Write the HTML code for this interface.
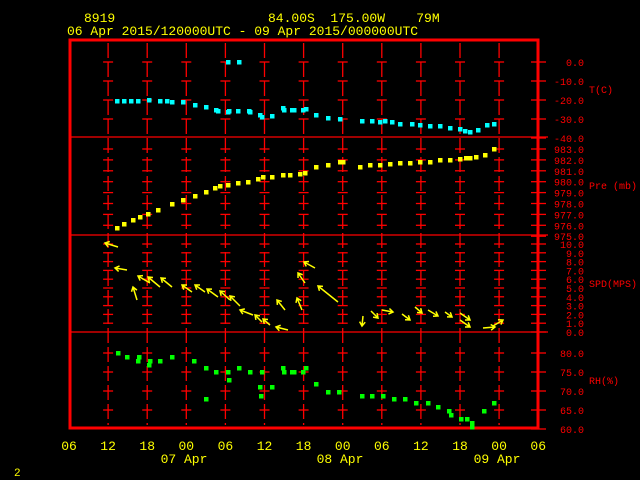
<!DOCTYPE html>
<html><head><meta charset="utf-8"><style>
html,body{margin:0;padding:0;background:#000;width:640px;height:480px;overflow:hidden}
svg{display:block}
text{font-family:"Liberation Mono","DejaVu Sans Mono",monospace;white-space:pre}
</style></head><body>
<svg width="640" height="480" viewBox="0 0 640 480" xmlns="http://www.w3.org/2000/svg" xml:space="preserve">
<rect width="640" height="480" fill="#000"/>
<g fill="#ffff00" font-size="13">
<text x="84" y="22">8919</text>
<text x="268" y="22">84.00S  175.00W    79M</text>
<text x="67" y="35">06 Apr 2015/120000UTC - 09 Apr 2015/000000UTC</text>
</g>
<g id="grid" stroke="#ff0000" stroke-width="1.3" stroke-dasharray="15,4"></g>
<g id="ticks" stroke="#ff0000" stroke-width="1.3"></g>
<g stroke="#ff0000" stroke-width="1.3">
<line x1="70" y1="137" x2="548" y2="137"/>
<line x1="70" y1="235" x2="548" y2="235"/>
<line x1="70" y1="332" x2="548" y2="332"/>
</g>
<rect x="70" y="40" width="468" height="388" fill="none" stroke="#ff0000" stroke-width="3"/>
<g id="rlab" fill="#ff0000" font-size="10" text-anchor="end"></g>
<g fill="#ff0000" font-size="10">
<text x="589" y="93">T(C)</text>
<text x="589" y="189">Pre (mb)</text>
<text x="589" y="287">SPD(MPS)</text>
<text x="589" y="384">RH(%)</text>
</g>
<g id="xlab" fill="#ffff00" font-size="13" text-anchor="middle"></g>
<g fill="#ffff00" font-size="13" text-anchor="middle">
<text x="184" y="463">07 Apr</text>
<text x="340" y="463">08 Apr</text>
<text x="497" y="463">09 Apr</text>
</g>
<text x="14" y="476" fill="#ffff00" font-size="11">2</text>
<g id="pts"></g>
<g id="wind" stroke="#ffff00" stroke-width="1.5" fill="none"></g>
</svg>
<script>
var NS="http://www.w3.org/2000/svg";
function el(p,t,a){var e=document.createElementNS(NS,t);for(var k in a)e.setAttribute(k,a[k]);document.getElementById(p).appendChild(e);return e;}
var gx=[];for(var k=1;k<=11;k++)gx.push(69+39.1*k);
gx.forEach(function(x){el("grid","line",{x1:x,y1:43,x2:x,y2:425});});
var levels=[];
[62,81,100,119].forEach(function(y){levels.push(y)});
for(var i=0;i<8;i++)levels.push(149+i*10.9);
for(var i=1;i<=10;i++)levels.push(332-i*8.8);
[353,372,391,410].forEach(function(y){levels.push(y)});
gx.forEach(function(x){levels.forEach(function(y){el("ticks","line",{x1:x-5,y1:y,x2:x+5,y2:y});});});
var rl=[];
["0.0","-10.0","-20.0","-30.0"].forEach(function(t,i){rl.push([62+i*19,t])});
rl.push([138,"-40.0"]);
for(var i=0;i<=8;i++)rl.push([149+i*10.9,(983-i)+".0"]);
for(var i=0;i<=10;i++)rl.push([332-i*8.8,i+".0"]);
for(var i=0;i<=4;i++)rl.push([353+i*19,(80-5*i)+".0"]);
rl.forEach(function(r){el("ticks","line",{x1:531,y1:r[0],x2:546,y2:r[0]});var t=el("rlab","text",{x:584,y:r[0]+4});t.textContent=r[1];});
["06","12","18","00","06","12","18","00","06","12","18","00","06"].forEach(function(t,i){var e=el("xlab","text",{x:69+39.1*i,y:450});e.textContent=t;});
var T=[[117,101],[124,101],[131,101],[138,101],[149,100],[160,101],[167,101],[172,102],[183,102],[195,105],[206,107],[216,110],[218,111],[228,112],[229,111],[238,111],[249,111],[250,112],[260,115],[262,117],[272,116],[283,108],[284,110],[292,110],[294,110],[303,110],[306,109],[316,115],[328,118],[340,119],[228,62],[239,62],[362,121],[372,121],[380,122],[385,121],[392,122],[400,124],[412,124],[420,125],[430,126],[440,126],[450,128],[460,129],[465,131],[470,132],[478,130],[487,125],[494,124]];
var P=[[117,228],[124,224],[133,220],[140,217],[148,214],[158,210],[172,204],[183,200],[195,196],[206,192],[215,188],[220,186],[228,185],[238,183],[248,182],[258,179],[263,177],[272,177],[283,175],[290,175],[300,174],[305,173],[316,167],[328,165],[340,162],[343,162],[360,167],[370,165],[380,165],[390,164],[400,163],[410,163],[420,162],[430,162],[440,160],[450,160],[460,159],[466,158],[470,158],[476,157],[485,155],[494,149]];
var R=[[118,353],[127,357],[139,357],[138,361],[150,361],[149,365],[160,361],[172,357],[194,361],[206,368],[216,372],[206,399],[228,372],[229,380],[239,368],[250,372],[262,372],[272,387],[260,387],[261,396],[283,368],[284,372],[292,372],[294,372],[303,372],[306,368],[316,384],[328,392],[339,392],[362,396],[372,396],[383,396],[394,399],[405,399],[416,403],[428,403],[438,407],[449,411],[451,415],[461,419],[467,419],[472,423],[472,427],[484,411],[494,403]];
T.forEach(function(p){el("pts","rect",{x:p[0]-2,y:p[1]-2,width:4.5,height:4.5,fill:"#00ffff"})});
P.forEach(function(p){el("pts","rect",{x:p[0]-2,y:p[1]-2,width:4.5,height:4.5,fill:"#ffff00"})});
R.forEach(function(p){el("pts","rect",{x:p[0]-2,y:p[1]-2,width:4.5,height:4.5,fill:"#00ff00"})});
var W=[[105,243,118,247],[115,268,127,270],[138,276,150,283],[133,287,137,300],[148,277,160,287],[161,278,172,287],[182,285,192,292],[195,285,205,292],[207,289,218,297],[220,291,230,300],[230,296,240,306],[240,310,253,315],[255,315,262,322],[263,319,270,325],[277,300,285,310],[276,327,288,330],[297,298,302,310],[298,273,305,283],[304,262,315,268],[318,286,338,302],[362,326,363,316],[378,318,371,311],[393,312,382,310],[410,320,402,314],[422,313,415,307],[438,316,428,310],[452,317,445,312],[470,320,460,313],[470,327,460,320],[503,320,493,326],[495,327,483,328]];
W.forEach(function(w){var hx=w[0],hy=w[1],tx=w[2],ty=w[3];var dx=tx-hx,dy=ty-hy,L=Math.sqrt(dx*dx+dy*dy);dx/=L;dy/=L;
var a=0.6,s=5;var c=Math.cos(a),sn=Math.sin(a);
var x1=hx+s*(dx*c-dy*sn),y1=hy+s*(dx*sn+dy*c),x2=hx+s*(dx*c+dy*sn),y2=hy+s*(-dx*sn+dy*c);
el("wind","path",{d:"M"+tx+" "+ty+"L"+hx+" "+hy+"M"+x1+" "+y1+"L"+hx+" "+hy+"L"+x2+" "+y2});});
</script>
</body></html>
